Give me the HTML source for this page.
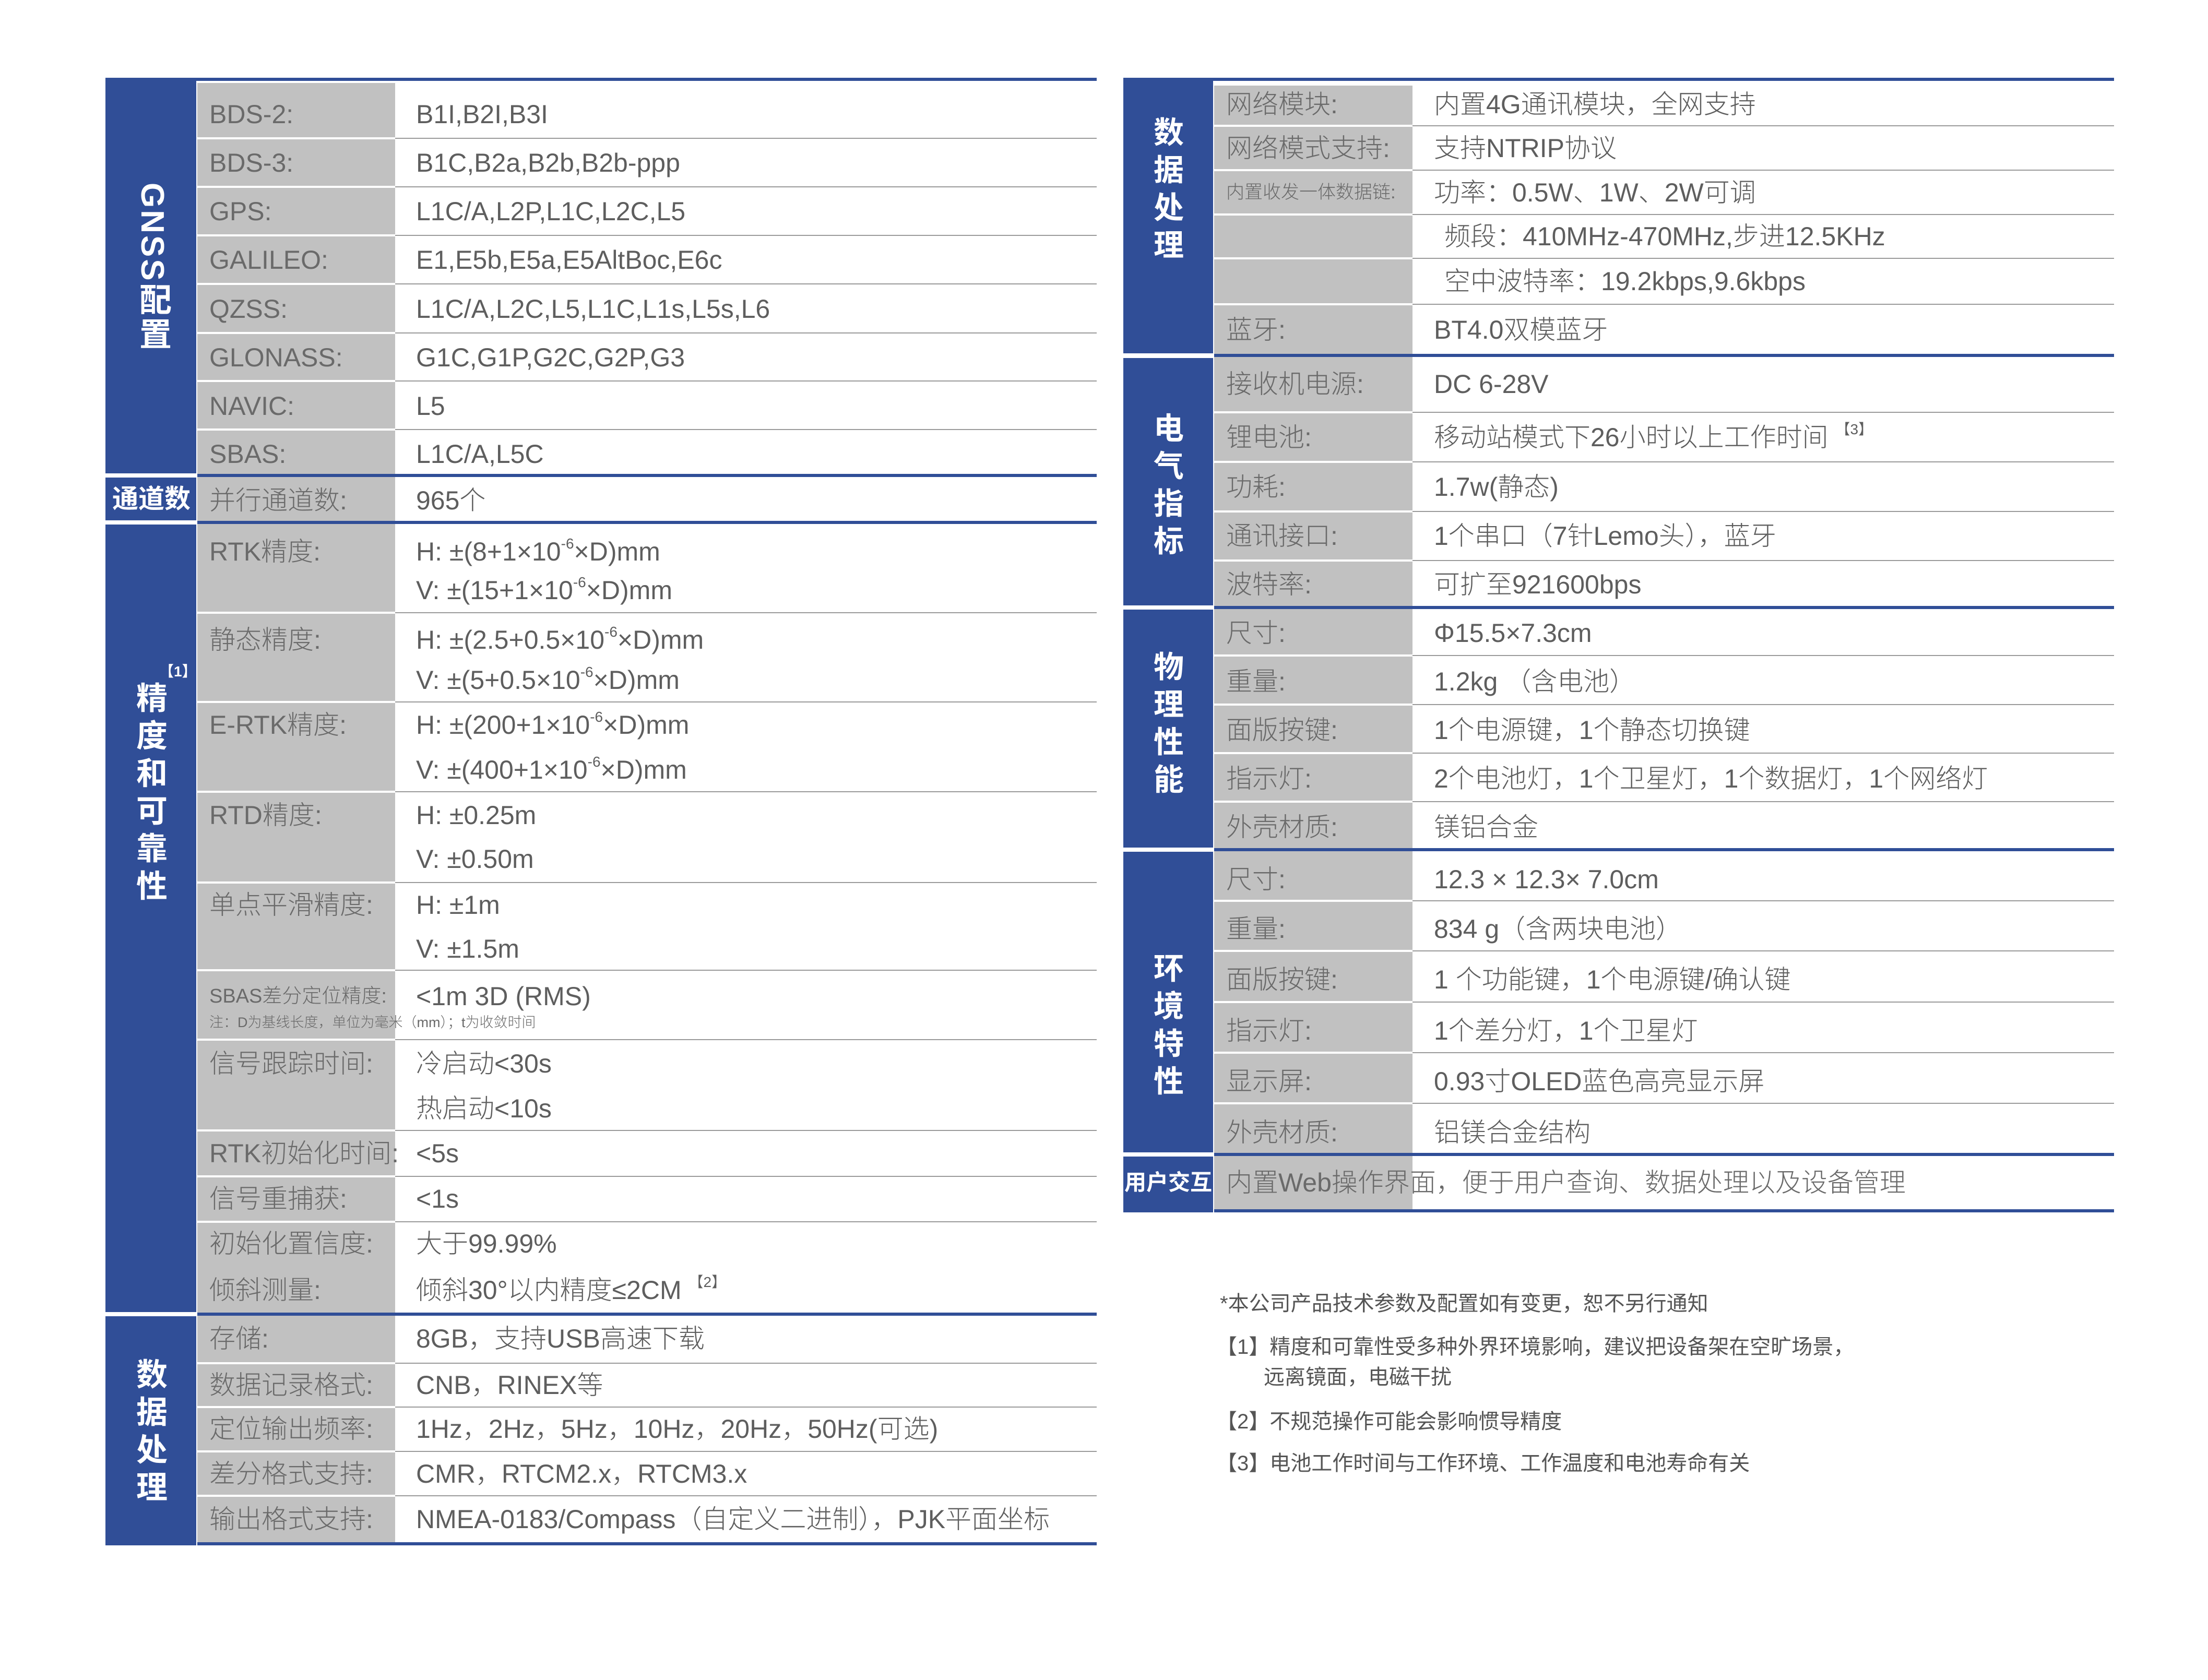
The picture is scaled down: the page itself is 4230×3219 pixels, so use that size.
<!DOCTYPE html>
<html><head><meta charset="utf-8">
<style>
body{margin:0;width:4230px;height:3219px;background:#fff;position:relative;overflow:hidden;font-family:"Liberation Sans","Noto Sans CJK SC",sans-serif;}
div{position:absolute;box-sizing:border-box;}
.blue{background:#304e97;}
.gray{background:#c1c1c1;}
.wl{background:#fff;height:4px;}
.gl{background:#9a9a9a;height:2px;}
.bl{background:#304e97;height:6px;}
.t{height:60px;line-height:60px;white-space:nowrap;font-size:50px;color:#5e5e5e;font-weight:300;}
.l{color:#6a6a6a;}
.h{color:#fff;font-weight:bold;font-size:60px;line-height:72px;width:90px;text-align:center;}
sup{font-size:28px;vertical-align:top;line-height:30px;}
.n{font-size:40px;color:#555;white-space:nowrap;height:50px;line-height:50px;}
</style></head><body>
<!-- LEFT TABLE -->
<div class="gray" style="left:378px;top:152px;width:379px;height:2806px;"></div>
<div class="blue" style="left:202px;top:150px;width:174px;height:757px;"></div>
<div class="blue" style="left:202px;top:915px;width:174px;height:82px;"></div>
<div class="blue" style="left:202px;top:1005px;width:174px;height:1509px;"></div>
<div class="blue" style="left:202px;top:2522px;width:174px;height:439px;"></div>
<div class="bl" style="left:202px;top:149px;width:1899px;"></div>
<div class="wl" style="left:378px;top:155px;width:379px;"></div>
<div class="wl" style="left:378px;top:263px;width:379px"></div><div class="gl" style="left:757px;top:264px;width:1344px"></div>
<div class="wl" style="left:378px;top:356px;width:379px"></div><div class="gl" style="left:757px;top:357px;width:1344px"></div>
<div class="wl" style="left:378px;top:449px;width:379px"></div><div class="gl" style="left:757px;top:450px;width:1344px"></div>
<div class="wl" style="left:378px;top:542px;width:379px"></div><div class="gl" style="left:757px;top:543px;width:1344px"></div>
<div class="wl" style="left:378px;top:636px;width:379px"></div><div class="gl" style="left:757px;top:637px;width:1344px"></div>
<div class="wl" style="left:378px;top:728px;width:379px"></div><div class="gl" style="left:757px;top:729px;width:1344px"></div>
<div class="wl" style="left:378px;top:821px;width:379px"></div><div class="gl" style="left:757px;top:822px;width:1344px"></div>
<div class="bl" style="left:378px;top:908px;width:1723px"></div>
<div class="bl" style="left:378px;top:998px;width:1723px"></div>
<div class="wl" style="left:378px;top:1172px;width:379px"></div><div class="gl" style="left:757px;top:1173px;width:1344px"></div>
<div class="wl" style="left:378px;top:1343px;width:379px"></div><div class="gl" style="left:757px;top:1344px;width:1344px"></div>
<div class="wl" style="left:378px;top:1515px;width:379px"></div><div class="gl" style="left:757px;top:1516px;width:1344px"></div>
<div class="wl" style="left:378px;top:1689px;width:379px"></div><div class="gl" style="left:757px;top:1690px;width:1344px"></div>
<div class="wl" style="left:378px;top:1857px;width:379px"></div><div class="gl" style="left:757px;top:1858px;width:1344px"></div>
<div class="wl" style="left:378px;top:1990px;width:379px"></div><div class="gl" style="left:757px;top:1991px;width:1344px"></div>
<div class="wl" style="left:378px;top:2164px;width:379px"></div><div class="gl" style="left:757px;top:2165px;width:1344px"></div>
<div class="wl" style="left:378px;top:2252px;width:379px"></div><div class="gl" style="left:757px;top:2253px;width:1344px"></div>
<div class="wl" style="left:378px;top:2339px;width:379px"></div><div class="gl" style="left:757px;top:2340px;width:1344px"></div>
<div class="bl" style="left:378px;top:2515px;width:1723px"></div>
<div class="wl" style="left:378px;top:2610px;width:379px"></div><div class="gl" style="left:757px;top:2611px;width:1344px"></div>
<div class="wl" style="left:378px;top:2694px;width:379px"></div><div class="gl" style="left:757px;top:2695px;width:1344px"></div>
<div class="wl" style="left:378px;top:2779px;width:379px"></div><div class="gl" style="left:757px;top:2780px;width:1344px"></div>
<div class="wl" style="left:378px;top:2864px;width:379px"></div><div class="gl" style="left:757px;top:2865px;width:1344px"></div>
<div class="bl" style="left:378px;top:2955px;width:1723px"></div>
<!-- headers -->
<div class="h" style="left:246px;top:350px;writing-mode:vertical-rl;text-orientation:mixed;font-size:62px;line-height:90px;height:340px;text-align:start;letter-spacing:4px;">GNSS配置</div>
<div style="left:210px;top:926px;width:160px;height:60px;line-height:60px;color:#fff;font-weight:bold;font-size:50px;text-align:center;white-space:nowrap;">通道数</div>
<div style="left:305px;top:1265px;color:#fff;font-size:28px;font-weight:bold;white-space:nowrap;">【1】</div>
<div class="h" style="left:246px;top:1303px;">精<br>度<br>和<br>可<br>靠<br>性</div>
<div class="h" style="left:246px;top:2599px;">数<br>据<br>处<br>理</div>
<!-- left labels/values -->
<div class="t l" style="left:401px;top:189px">BDS-2:</div><div class="t" style="left:797px;top:189px">B1I,B2I,B3I</div>
<div class="t l" style="left:401px;top:282px">BDS-3:</div><div class="t" style="left:797px;top:282px">B1C,B2a,B2b,B2b-ppp</div>
<div class="t l" style="left:401px;top:375px">GPS:</div><div class="t" style="left:797px;top:375px">L1C/A,L2P,L1C,L2C,L5</div>
<div class="t l" style="left:401px;top:468px">GALILEO:</div><div class="t" style="left:797px;top:468px">E1,E5b,E5a,E5AltBoc,E6c</div>
<div class="t l" style="left:401px;top:562px">QZSS:</div><div class="t" style="left:797px;top:562px">L1C/A,L2C,L5,L1C,L1s,L5s,L6</div>
<div class="t l" style="left:401px;top:655px">GLONASS:</div><div class="t" style="left:797px;top:655px">G1C,G1P,G2C,G2P,G3</div>
<div class="t l" style="left:401px;top:748px">NAVIC:</div><div class="t" style="left:797px;top:748px">L5</div>
<div class="t l" style="left:401px;top:840px">SBAS:</div><div class="t" style="left:797px;top:840px">L1C/A,L5C</div>
<div class="t l" style="left:401px;top:929px">并行通道数:</div><div class="t" style="left:797px;top:929px">965个</div>
<div class="t l" style="left:401px;top:1027px">RTK精度:</div><div class="t" style="left:797px;top:1027px">H: ±(8+1×10<sup>-6</sup>×D)mm</div><div class="t" style="left:797px;top:1101px">V: ±(15+1×10<sup>-6</sup>×D)mm</div>
<div class="t l" style="left:401px;top:1196px">静态精度:</div><div class="t" style="left:797px;top:1196px">H: ±(2.5+0.5×10<sup>-6</sup>×D)mm</div><div class="t" style="left:797px;top:1273px">V: ±(5+0.5×10<sup>-6</sup>×D)mm</div>
<div class="t l" style="left:401px;top:1359px">E-RTK精度:</div><div class="t" style="left:797px;top:1359px">H: ±(200+1×10<sup>-6</sup>×D)mm</div><div class="t" style="left:797px;top:1445px">V: ±(400+1×10<sup>-6</sup>×D)mm</div>
<div class="t l" style="left:401px;top:1532px">RTD精度:</div><div class="t" style="left:797px;top:1532px">H: ±0.25m</div><div class="t" style="left:797px;top:1616px">V: ±0.50m</div>
<div class="t l" style="left:401px;top:1704px">单点平滑精度:</div><div class="t" style="left:797px;top:1704px">H: ±1m</div><div class="t" style="left:797px;top:1788px">V: ±1.5m</div>
<div class="t l" style="left:401px;top:1879px;font-size:38px">SBAS差分定位精度:</div><div class="t" style="left:797px;top:1879px">&lt;1m 3D (RMS)</div>
<div class="t l" style="left:401px;top:1944px;font-size:27px;height:30px;line-height:30px">注：D为基线长度，单位为毫米（mm）；t为收敛时间</div>
<div class="t l" style="left:401px;top:2008px">信号跟踪时间:</div><div class="t" style="left:797px;top:2008px">冷启动&lt;30s</div><div class="t" style="left:797px;top:2094px">热启动&lt;10s</div>
<div class="t l" style="left:401px;top:2180px">RTK初始化时间:</div><div class="t" style="left:797px;top:2180px">&lt;5s</div>
<div class="t l" style="left:401px;top:2267px">信号重捕获:</div><div class="t" style="left:797px;top:2267px">&lt;1s</div>
<div class="t l" style="left:401px;top:2353px">初始化置信度:</div><div class="t" style="left:797px;top:2353px">大于99.99%</div>
<div class="t l" style="left:401px;top:2442px">倾斜测量:</div><div class="t" style="left:797px;top:2442px">倾斜30°以内精度≤2CM <sup>【2】</sup></div>
<div class="t l" style="left:401px;top:2535px">存储:</div><div class="t" style="left:797px;top:2535px">8GB，支持USB高速下载</div>
<div class="t l" style="left:401px;top:2624px">数据记录格式:</div><div class="t" style="left:797px;top:2624px">CNB，RINEX等</div>
<div class="t l" style="left:401px;top:2708px">定位输出频率:</div><div class="t" style="left:797px;top:2708px">1Hz，2Hz，5Hz，10Hz，20Hz，50Hz(可选)</div>
<div class="t l" style="left:401px;top:2794px">差分格式支持:</div><div class="t" style="left:797px;top:2794px">CMR，RTCM2.x，RTCM3.x</div>
<div class="t l" style="left:401px;top:2881px">输出格式支持:</div><div class="t" style="left:797px;top:2881px">NMEA-0183/Compass（自定义二进制），PJK平面坐标</div>

<!-- RIGHT TABLE -->
<div class="gray" style="left:2326px;top:152px;width:380px;height:2168px;"></div>
<div class="blue" style="left:2152px;top:150px;width:172px;height:527px;"></div>
<div class="blue" style="left:2152px;top:686px;width:172px;height:474px;"></div>
<div class="blue" style="left:2152px;top:1168px;width:172px;height:456px;"></div>
<div class="blue" style="left:2152px;top:1632px;width:172px;height:576px;"></div>
<div class="blue" style="left:2152px;top:2216px;width:172px;height:107px;"></div>
<div class="bl" style="left:2152px;top:149px;width:1898px;"></div>
<div class="wl" style="left:2326px;top:155px;width:380px;height:9px"></div>
<div class="wl" style="left:2326px;top:239px;width:380px"></div><div class="gl" style="left:2706px;top:240px;width:1344px"></div>
<div class="wl" style="left:2326px;top:324px;width:380px"></div><div class="gl" style="left:2706px;top:325px;width:1344px"></div>
<div class="wl" style="left:2326px;top:409px;width:380px"></div><div class="gl" style="left:2706px;top:410px;width:1344px"></div>
<div class="wl" style="left:2326px;top:493px;width:380px"></div><div class="gl" style="left:2706px;top:494px;width:1344px"></div>
<div class="wl" style="left:2326px;top:581px;width:380px"></div><div class="gl" style="left:2706px;top:582px;width:1344px"></div>
<div class="bl" style="left:2326px;top:678px;width:1724px"></div>
<div class="wl" style="left:2326px;top:788px;width:380px"></div><div class="gl" style="left:2706px;top:789px;width:1344px"></div>
<div class="wl" style="left:2326px;top:883px;width:380px"></div><div class="gl" style="left:2706px;top:884px;width:1344px"></div>
<div class="wl" style="left:2326px;top:978px;width:380px"></div><div class="gl" style="left:2706px;top:979px;width:1344px"></div>
<div class="wl" style="left:2326px;top:1072px;width:380px"></div><div class="gl" style="left:2706px;top:1073px;width:1344px"></div>
<div class="bl" style="left:2326px;top:1161px;width:1724px"></div>
<div class="wl" style="left:2326px;top:1254px;width:380px"></div><div class="gl" style="left:2706px;top:1255px;width:1344px"></div>
<div class="wl" style="left:2326px;top:1348px;width:380px"></div><div class="gl" style="left:2706px;top:1349px;width:1344px"></div>
<div class="wl" style="left:2326px;top:1441px;width:380px"></div><div class="gl" style="left:2706px;top:1442px;width:1344px"></div>
<div class="wl" style="left:2326px;top:1534px;width:380px"></div><div class="gl" style="left:2706px;top:1535px;width:1344px"></div>
<div class="bl" style="left:2326px;top:1625px;width:1724px"></div>
<div class="wl" style="left:2326px;top:1724px;width:380px"></div><div class="gl" style="left:2706px;top:1725px;width:1344px"></div>
<div class="wl" style="left:2326px;top:1820px;width:380px"></div><div class="gl" style="left:2706px;top:1821px;width:1344px"></div>
<div class="wl" style="left:2326px;top:1918px;width:380px"></div><div class="gl" style="left:2706px;top:1919px;width:1344px"></div>
<div class="wl" style="left:2326px;top:2015px;width:380px"></div><div class="gl" style="left:2706px;top:2016px;width:1344px"></div>
<div class="wl" style="left:2326px;top:2112px;width:380px"></div><div class="gl" style="left:2706px;top:2113px;width:1344px"></div>
<div class="bl" style="left:2326px;top:2209px;width:1724px"></div>
<div class="bl" style="left:2326px;top:2317px;width:1724px"></div>
<!-- right headers -->
<div class="h" style="left:2194px;top:219px;font-size:58px;">数<br>据<br>处<br>理</div>
<div class="h" style="left:2194px;top:786px;font-size:58px;">电<br>气<br>指<br>标</div>
<div class="h" style="left:2194px;top:1243px;font-size:58px;">物<br>理<br>性<br>能</div>
<div class="h" style="left:2194px;top:1821px;font-size:58px;">环<br>境<br>特<br>性</div>
<div style="left:2152px;top:2236px;width:172px;height:60px;line-height:60px;color:#fff;font-weight:bold;font-size:42px;text-align:center;white-space:nowrap;">用户交互</div>
<!-- right labels/values -->
<div class="t l" style="left:2349px;top:170px">网络模块:</div><div class="t" style="left:2747px;top:170px">内置4G通讯模块，全网支持</div>
<div class="t l" style="left:2349px;top:254px">网络模式支持:</div><div class="t" style="left:2747px;top:254px">支持NTRIP协议</div>
<div class="t l" style="left:2349px;top:339px;font-size:35px">内置收发一体数据链:</div><div class="t" style="left:2747px;top:339px">功率：0.5W、1W、2W可调</div>
<div class="t" style="left:2767px;top:423px">频段：410MHz-470MHz,步进12.5KHz</div>
<div class="t" style="left:2767px;top:509px">空中波特率：19.2kbps,9.6kbps</div>
<div class="t l" style="left:2349px;top:602px">蓝牙:</div><div class="t" style="left:2747px;top:602px">BT4.0双模蓝牙</div>
<div class="t l" style="left:2349px;top:706px">接收机电源:</div><div class="t" style="left:2747px;top:706px">DC 6-28V</div>
<div class="t l" style="left:2349px;top:808px">锂电池:</div><div class="t" style="left:2747px;top:808px">移动站模式下26小时以上工作时间 <sup>【3】</sup></div>
<div class="t l" style="left:2349px;top:903px">功耗:</div><div class="t" style="left:2747px;top:903px">1.7w(静态)</div>
<div class="t l" style="left:2349px;top:997px">通讯接口:</div><div class="t" style="left:2747px;top:997px">1个串口（7针Lemo头），蓝牙</div>
<div class="t l" style="left:2349px;top:1090px">波特率:</div><div class="t" style="left:2747px;top:1090px">可扩至921600bps</div>
<div class="t l" style="left:2349px;top:1183px">尺寸:</div><div class="t" style="left:2747px;top:1183px">Φ15.5×7.3cm</div>
<div class="t l" style="left:2349px;top:1276px">重量:</div><div class="t" style="left:2747px;top:1276px">1.2kg （含电池）</div>
<div class="t l" style="left:2349px;top:1369px">面版按键:</div><div class="t" style="left:2747px;top:1369px">1个电源键，1个静态切换键</div>
<div class="t l" style="left:2349px;top:1462px">指示灯:</div><div class="t" style="left:2747px;top:1462px">2个电池灯，1个卫星灯，1个数据灯，1个网络灯</div>
<div class="t l" style="left:2349px;top:1555px">外壳材质:</div><div class="t" style="left:2747px;top:1555px">镁铝合金</div>
<div class="t l" style="left:2349px;top:1655px">尺寸:</div><div class="t" style="left:2747px;top:1655px">12.3 × 12.3× 7.0cm</div>
<div class="t l" style="left:2349px;top:1750px">重量:</div><div class="t" style="left:2747px;top:1750px">834 g（含两块电池）</div>
<div class="t l" style="left:2349px;top:1847px">面版按键:</div><div class="t" style="left:2747px;top:1847px">1 个功能键，1个电源键/确认键</div>
<div class="t l" style="left:2349px;top:1945px">指示灯:</div><div class="t" style="left:2747px;top:1945px">1个差分灯，1个卫星灯</div>
<div class="t l" style="left:2349px;top:2042px">显示屏:</div><div class="t" style="left:2747px;top:2042px">0.93寸OLED蓝色高亮显示屏</div>
<div class="t l" style="left:2349px;top:2140px">外壳材质:</div><div class="t" style="left:2747px;top:2140px">铝镁合金结构</div>
<div class="t l" style="left:2349px;top:2236px">内置Web操作界面，便于用户查询、数据处理以及设备管理</div>
<!-- notes -->
<div class="n" style="left:2337px;top:2473px">*本公司产品技术参数及配置如有变更，恕不另行通知</div>
<div class="n" style="left:2330px;top:2556px">【1】精度和可靠性受多种外界环境影响，建议把设备架在空旷场景，</div>
<div class="n" style="left:2421px;top:2614px">远离镜面，电磁干扰</div>
<div class="n" style="left:2330px;top:2699px">【2】不规范操作可能会影响惯导精度</div>
<div class="n" style="left:2330px;top:2779px">【3】电池工作时间与工作环境、工作温度和电池寿命有关</div>
</body></html>
